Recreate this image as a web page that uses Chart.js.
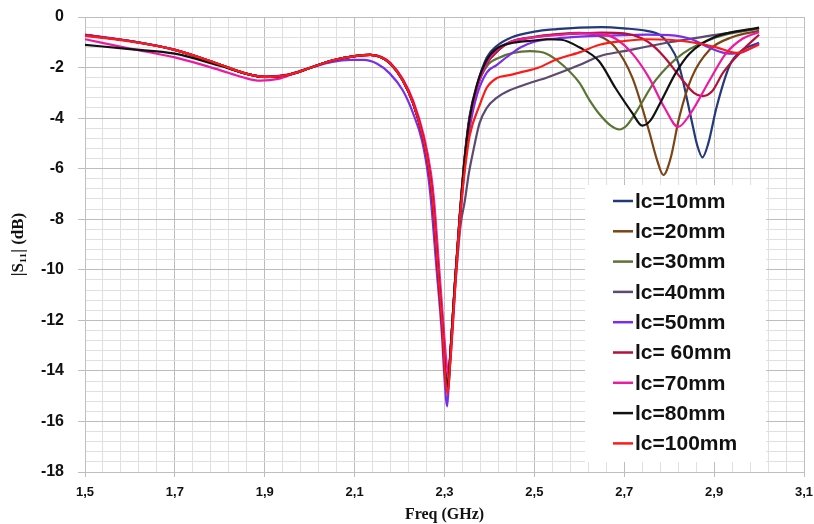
<!DOCTYPE html>
<html>
<head>
<meta charset="utf-8">
<script src="https://cdn.jsdelivr.net/npm/chart.js@4.4.1/dist/chart.umd.min.js"></script>
<style>
  html, body { margin: 0; padding: 0; background: #fff; }
  canvas { display: block; }
</style>
</head>
<body>
<canvas id="c" width="814" height="524"></canvas>
<script>
// |S11| vs frequency, one curve per lc length

const seriesNames = ['lc=10mm', 'lc=20mm', 'lc=30mm', 'lc=40mm', 'lc=50mm', 'lc= 60mm', 'lc=70mm', 'lc=80mm', 'lc=100mm']
const seriesColors = ['#22397a', '#7b4414', '#5b7434', '#5c4a70', '#7a2ee6', '#b3113a', '#ec1aa0', '#111111', '#ff1a1a']

const xMajor = [1.5, 1.7, 1.9, 2.1, 2.3, 2.5, 2.7, 2.9, 3.1]
const xTickLabels = ['1,5', '1,7', '1,9', '2,1', '2,3', '2,5', '2,7', '2,9', '3,1']
const yMajor = [0, -2, -4, -6, -8, -10, -12, -14, -16, -18]
const yTickLabels = ['0', '-2', '-4', '-6', '-8', '-10', '-12', '-14', '-16', '-18']

// [freq GHz, dB]
const lc10 = [[1.5,-0.72],[1.6,-0.95],[1.7,-1.3],[1.8,-1.88],[1.86,-2.25],[1.9,-2.37],[1.95,-2.3],[2.0,-2.02],[2.05,-1.72],[2.1,-1.55],[2.135,-1.5],[2.16,-1.6],[2.18,-1.85],[2.207,-2.5],[2.23,-3.4],[2.252,-4.75],[2.267,-6.2],[2.274,-7.3],[2.285,-9.9],[2.296,-12.5],[2.301,-14.0],[2.307,-14.7],[2.312,-13.6],[2.323,-10.6],[2.334,-7.8],[2.345,-5.5],[2.356,-3.9],[2.372,-2.7],[2.394,-1.6],[2.416,-1.15],[2.45,-0.8],[2.5,-0.58],[2.55,-0.48],[2.6,-0.42],[2.65,-0.4],[2.7,-0.45],[2.75,-0.55],[2.78,-0.72],[2.8,-1.1],[2.82,-1.8],[2.85,-4.1],[2.862,-5.05],[2.874,-5.55],[2.887,-5.0],[2.905,-3.6],[2.935,-1.9],[2.96,-1.35],[3.0,-1.02]]
const lc20 = [[1.5,-0.72],[1.6,-0.95],[1.7,-1.3],[1.8,-1.88],[1.86,-2.25],[1.9,-2.37],[1.95,-2.3],[2.0,-2.02],[2.05,-1.72],[2.1,-1.55],[2.135,-1.5],[2.16,-1.6],[2.18,-1.85],[2.207,-2.5],[2.23,-3.4],[2.252,-4.75],[2.267,-6.2],[2.274,-7.3],[2.285,-9.9],[2.296,-12.5],[2.301,-14.0],[2.307,-14.7],[2.312,-13.6],[2.323,-10.6],[2.334,-7.9],[2.345,-5.6],[2.356,-4.0],[2.372,-2.8],[2.394,-1.84],[2.416,-1.38],[2.445,-1.0],[2.5,-0.78],[2.55,-0.68],[2.6,-0.63],[2.64,-0.72],[2.68,-1.2],[2.718,-2.4],[2.755,-4.5],[2.772,-5.6],[2.787,-6.25],[2.803,-5.6],[2.822,-4.0],[2.85,-2.4],[2.89,-1.3],[2.94,-0.8],[3.0,-0.55]]
const lc30 = [[1.5,-0.72],[1.6,-0.95],[1.7,-1.3],[1.8,-1.88],[1.86,-2.25],[1.9,-2.37],[1.95,-2.3],[2.0,-2.02],[2.05,-1.72],[2.1,-1.55],[2.135,-1.5],[2.16,-1.6],[2.18,-1.85],[2.207,-2.5],[2.23,-3.4],[2.252,-4.75],[2.267,-6.2],[2.274,-7.3],[2.285,-9.9],[2.296,-12.5],[2.301,-14.0],[2.307,-14.6],[2.312,-13.6],[2.323,-10.6],[2.334,-7.9],[2.345,-5.6],[2.356,-4.0],[2.372,-2.8],[2.394,-1.95],[2.423,-1.6],[2.453,-1.42],[2.49,-1.35],[2.527,-1.45],[2.563,-1.9],[2.6,-2.6],[2.623,-3.3],[2.645,-3.85],[2.67,-4.3],[2.689,-4.45],[2.705,-4.3],[2.725,-3.8],[2.77,-2.5],[2.83,-1.45],[2.905,-0.8],[3.0,-0.45]]
const lc40 = [[1.5,-0.72],[1.6,-0.95],[1.7,-1.3],[1.8,-1.88],[1.86,-2.25],[1.9,-2.37],[1.95,-2.3],[2.0,-2.02],[2.05,-1.72],[2.1,-1.55],[2.135,-1.5],[2.16,-1.6],[2.18,-1.85],[2.207,-2.5],[2.23,-3.4],[2.252,-4.75],[2.267,-6.2],[2.274,-7.3],[2.285,-9.9],[2.296,-12.5],[2.302,-14.0],[2.308,-14.8],[2.313,-13.6],[2.324,-10.6],[2.336,-8.2],[2.345,-7.3],[2.354,-6.2],[2.364,-5.3],[2.378,-4.2],[2.394,-3.6],[2.416,-3.2],[2.445,-2.9],[2.5,-2.55],[2.527,-2.4],[2.6,-1.9],[2.645,-1.55],[2.7,-1.35],[2.8,-1.0],[2.9,-0.72],[3.0,-0.45]]
const lc50 = [[1.5,-0.7],[1.6,-0.95],[1.7,-1.3],[1.8,-1.9],[1.86,-2.25],[1.9,-2.36],[1.95,-2.28],[2.0,-2.02],[2.05,-1.78],[2.09,-1.7],[2.12,-1.7],[2.15,-1.85],[2.178,-2.23],[2.207,-2.9],[2.23,-3.8],[2.25,-4.9],[2.263,-6.2],[2.27,-7.3],[2.282,-9.9],[2.294,-12.5],[2.3,-14.3],[2.306,-15.4],[2.311,-14.0],[2.322,-10.8],[2.334,-8.0],[2.345,-5.9],[2.356,-4.4],[2.372,-3.1],[2.394,-2.2],[2.416,-1.9],[2.445,-1.5],[2.47,-1.2],[2.5,-0.98],[2.55,-0.85],[2.6,-0.78],[2.65,-0.74],[2.7,-0.72],[2.75,-0.7],[2.8,-0.72],[2.85,-0.88],[2.89,-1.22],[2.935,-1.45],[2.958,-1.42],[3.0,-1.05]]
const lc60 = [[1.5,-0.72],[1.6,-0.95],[1.7,-1.3],[1.8,-1.88],[1.86,-2.25],[1.9,-2.37],[1.95,-2.3],[2.0,-2.02],[2.05,-1.72],[2.1,-1.55],[2.135,-1.5],[2.16,-1.6],[2.18,-1.85],[2.207,-2.5],[2.23,-3.4],[2.252,-4.75],[2.267,-6.2],[2.274,-7.3],[2.285,-9.9],[2.296,-12.5],[2.301,-14.0],[2.307,-14.8],[2.312,-13.6],[2.323,-10.6],[2.334,-7.9],[2.345,-5.6],[2.356,-4.0],[2.372,-2.8],[2.394,-1.84],[2.416,-1.38],[2.445,-1.0],[2.5,-0.8],[2.55,-0.7],[2.6,-0.65],[2.65,-0.62],[2.7,-0.65],[2.74,-0.85],[2.765,-1.15],[2.79,-1.6],[2.83,-2.5],[2.855,-3.0],[2.874,-3.13],[2.895,-2.95],[2.92,-2.2],[2.964,-1.3],[3.0,-0.7]]
const lc70 = [[1.5,-0.88],[1.6,-1.25],[1.7,-1.6],[1.8,-2.1],[1.85,-2.38],[1.89,-2.52],[1.93,-2.45],[1.97,-2.2],[2.0,-2.02],[2.05,-1.72],[2.1,-1.55],[2.135,-1.5],[2.16,-1.58],[2.18,-1.82],[2.207,-2.45],[2.23,-3.3],[2.254,-4.7],[2.27,-6.2],[2.277,-7.3],[2.288,-9.9],[2.299,-12.5],[2.304,-13.6],[2.309,-14.2],[2.314,-13.4],[2.325,-10.4],[2.336,-7.8],[2.347,-5.5],[2.358,-3.9],[2.374,-2.7],[2.394,-1.8],[2.416,-1.3],[2.445,-1.0],[2.5,-0.8],[2.55,-0.72],[2.6,-0.65],[2.65,-0.68],[2.68,-0.85],[2.718,-1.45],[2.755,-2.4],[2.79,-3.6],[2.82,-4.35],[2.848,-3.8],[2.89,-2.5],[2.926,-1.45],[2.964,-0.85],[3.0,-0.6]]
const lc80 = [[1.5,-1.1],[1.6,-1.27],[1.7,-1.45],[1.8,-1.93],[1.86,-2.25],[1.9,-2.38],[1.95,-2.3],[2.0,-2.02],[2.05,-1.72],[2.1,-1.55],[2.135,-1.5],[2.16,-1.6],[2.18,-1.85],[2.207,-2.5],[2.23,-3.4],[2.252,-4.75],[2.267,-6.2],[2.274,-7.3],[2.285,-9.9],[2.296,-12.5],[2.301,-14.0],[2.307,-14.6],[2.312,-13.6],[2.323,-10.6],[2.334,-7.9],[2.345,-5.6],[2.356,-4.0],[2.372,-2.7],[2.394,-1.7],[2.416,-1.25],[2.453,-1.02],[2.5,-0.93],[2.527,-0.88],[2.56,-0.9],[2.6,-1.2],[2.644,-1.75],[2.68,-2.8],[2.718,-3.8],[2.74,-4.3],[2.758,-4.1],[2.78,-3.4],[2.815,-2.2],[2.845,-1.45],[2.9,-0.8],[3.0,-0.42]]
const lc100 = [[1.5,-0.75],[1.6,-0.97],[1.7,-1.3],[1.8,-1.88],[1.86,-2.25],[1.9,-2.37],[1.95,-2.3],[2.0,-2.02],[2.05,-1.72],[2.1,-1.55],[2.135,-1.5],[2.16,-1.6],[2.18,-1.85],[2.207,-2.5],[2.23,-3.4],[2.252,-4.75],[2.267,-6.2],[2.274,-7.3],[2.285,-9.9],[2.296,-12.5],[2.301,-14.1],[2.307,-14.9],[2.312,-13.8],[2.323,-10.8],[2.334,-8.0],[2.345,-6.1],[2.356,-4.7],[2.378,-3.5],[2.394,-2.8],[2.416,-2.42],[2.445,-2.3],[2.467,-2.2],[2.51,-2.0],[2.546,-1.7],[2.6,-1.4],[2.645,-1.1],[2.7,-0.95],[2.75,-0.88],[2.8,-0.9],[2.85,-1.0],[2.905,-1.2],[2.95,-1.42],[3.0,-1.1]]

const series = [lc10, lc20, lc30, lc40, lc50, lc60, lc70, lc80, lc100]

const near = (a, b) => Math.abs(a - b) < 1e-6
const xMajorIdx = v => xMajor.findIndex(m => near(m, v))
const yMajorIdx = v => yMajor.findIndex(m => near(m, v))

const GRID_MAJOR = '#bdbdbd'
const GRID_MINOR = '#e0e0e0'

// legend box drawn inside the plot, like the Excel one
const boxLegend = {
  id: 'boxLegend',
  afterDraw(chart) {
    const ctx = chart.ctx
    ctx.save()
    ctx.fillStyle = '#fff'
    ctx.fillRect(585, 185, 181, 277)
    ctx.font = 'bold 21px "Liberation Sans", Arial, sans-serif'
    ctx.textBaseline = 'middle'
    seriesNames.forEach((name, i) => {
      const y = 201 + i * 30.3
      ctx.strokeStyle = seriesColors[i]
      ctx.lineWidth = 2.5
      ctx.beginPath()
      ctx.moveTo(613, y)
      ctx.lineTo(633, y)
      ctx.stroke()
      ctx.fillStyle = '#111'
      ctx.fillText(name, 635, y + 1)
    })
    ctx.restore()
  }
}

new Chart(document.getElementById('c'), {
  type: 'line',
  data: {
    datasets: series.map((pts, i) => ({
      label: seriesNames[i],
      data: pts.map(p => ({ x: p[0], y: p[1] })),
      borderColor: seriesColors[i],
      borderWidth: 2.2,
      pointRadius: 0,
      cubicInterpolationMode: 'monotone',
      order: series.length - i,
    })),
  },
  options: {
    responsive: false,
    animation: false,
    layout: { padding: { left: 0, right: 10, top: 17, bottom: 0 } },
    plugins: { legend: { display: false }, tooltip: { enabled: false } },
    scales: {
      x: {
        type: 'linear',
        min: 1.5,
        max: 3.1,
        afterFit: s => { s.height = 52; s.paddingLeft = 0; s.paddingRight = 0 },
        ticks: {
          stepSize: 0.04,
          autoSkip: false,
          maxRotation: 0,
          padding: 8,
          color: '#111',
          font: { family: '"Liberation Sans", Arial, sans-serif', size: 13, weight: 'bold' },
          callback: v => { const i = xMajorIdx(v); return i >= 0 ? xTickLabels[i] : '' },
        },
        grid: {
          color: c => xMajorIdx(c.tick.value) >= 0 ? GRID_MAJOR : GRID_MINOR,
          tickColor: c => xMajorIdx(c.tick.value) >= 0 ? GRID_MAJOR : 'rgba(0,0,0,0)',
          tickLength: 5,
        },
        border: { color: '#bfbfbf' },
        title: {
          display: true,
          text: 'Freq (GHz)',
          color: '#111',
          padding: { top: 0, bottom: 0 },
          font: { family: '"Liberation Serif", "Times New Roman", serif', size: 16, weight: 'bold' },
        },
      },
      y: {
        min: -18,
        max: 0,
        afterFit: s => { s.width = 85; s.paddingTop = 0; s.paddingBottom = 0 },
        ticks: {
          stepSize: 0.4,
          autoSkip: false,
          padding: 14,
          color: '#111',
          font: { family: '"Liberation Sans", Arial, sans-serif', size: 16, weight: 'bold' },
          callback: v => { const i = yMajorIdx(v); return i >= 0 ? yTickLabels[i] : '' },
        },
        grid: {
          color: c => yMajorIdx(c.tick.value) >= 0 ? GRID_MAJOR : GRID_MINOR,
          tickColor: c => yMajorIdx(c.tick.value) >= 0 ? GRID_MAJOR : 'rgba(0,0,0,0)',
          tickLength: 7,
        },
        border: { color: '#bfbfbf' },
        title: {
          display: true,
          text: '|S\u2081\u2081| (dB)',
          color: '#111',
          padding: { top: 8, bottom: 0 },
          font: { family: '"Liberation Serif", "Times New Roman", serif', size: 17, weight: 'bold' },
        },
      },
    },
  },
  plugins: [boxLegend],
})
</script>
</body>
</html>
